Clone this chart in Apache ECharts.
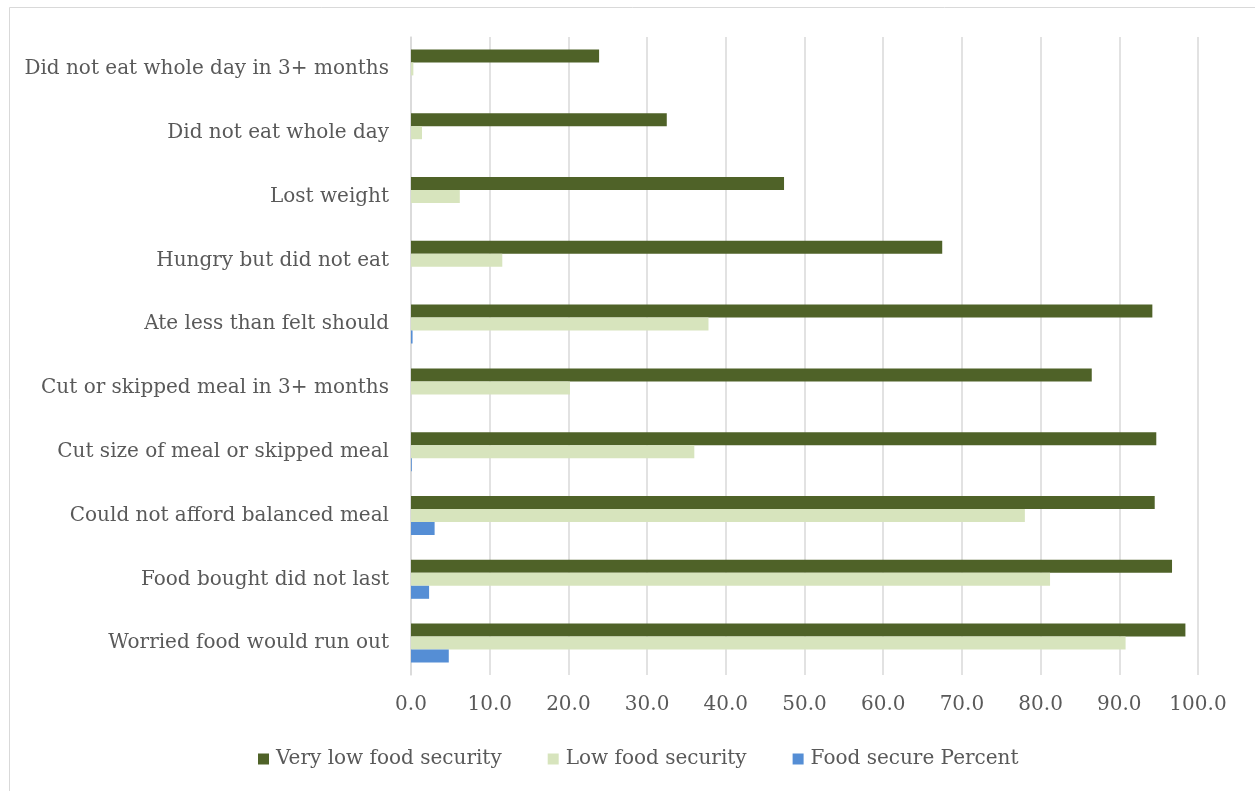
<!DOCTYPE html>
<html><head><meta charset="utf-8">
<script src="https://cdn.jsdelivr.net/npm/echarts@6/dist/echarts.min.js"></script>
<style>html,body{margin:0;padding:0;background:#fff}#c{width:1255px;height:791px}</style>
</head><body><div id="c"></div>
<script>
// categories listed bottom to top
const categories = [
  "Worried food would run out",
  "Food bought did not last",
  "Could not afford balanced meal",
  "Cut size of meal or skipped meal",
  "Cut or skipped meal in 3+ months",
  "Ate less than felt should",
  "Hungry but did not eat",
  "Lost weight",
  "Did not eat whole day",
  "Did not eat whole day in 3+ months"
];
const veryLow = [98.4, 96.7, 94.5, 94.7, 86.5, 94.2, 67.5, 47.4, 32.5, 23.9];
const low = [90.8, 81.2, 78.0, 36.0, 20.2, 37.8, 11.6, 6.2, 1.4, 0.3];
const secure = [4.8, 2.3, 3.0, 0.1, 0.0, 0.2, 0.0, 0.0, 0.0, 0.0];
const xTicks = [0, 10, 20, 30, 40, 50, 60, 70, 80, 90, 100];

const FONT = "DejaVu Serif";
const FS = 20;
const chart = echarts.init(document.getElementById('c'), null, {renderer: 'canvas'});
chart.setOption({
  animation: false,
  backgroundColor: '#fff',
  graphic: [{type: 'rect', shape: {x: 9.5, y: 7.5, width: 1250, height: 800}, style: {fill: 'none', stroke: '#D9D9D9', lineWidth: 1}, silent: true}],
  grid: {left: 411, right: 57, top: 37, bottom: 116, containLabel: false},
  legend: {
    bottom: 17, left: 253,
    data: ['Very low food security', 'Low food security', 'Food secure Percent'],
    itemWidth: 11, itemHeight: 11, itemGap: 46,
    icon: 'rect',
    textStyle: {fontFamily: FONT, fontSize: FS, color: '#595959', padding: [0, 0, 0, 2]}
  },
  xAxis: {
    type: 'value', min: xTicks[0], max: xTicks[xTicks.length - 1], interval: 10,
    axisLine: {show: false}, axisTick: {show: false},
    splitLine: {lineStyle: {color: '#D9D9D9', width: 1.5}},
    axisLabel: {fontFamily: FONT, fontSize: FS, color: '#595959', margin: 20, formatter: v => v.toFixed(1)}
  },
  yAxis: {
    type: 'category', data: categories,
    axisLine: {lineStyle: {color: '#D9D9D9', width: 1.5}}, axisTick: {show: false},
    axisLabel: {fontFamily: FONT, fontSize: FS, color: '#595959', margin: 22}
  },
  series: [
    {name: 'Very low food security', type: 'bar', data: veryLow, barWidth: 13, barGap: '0%', itemStyle: {color: '#4F6228'}},
    {name: 'Low food security', type: 'bar', data: low, barWidth: 13, barGap: '0%', itemStyle: {color: '#D7E4BD'}},
    {name: 'Food secure Percent', type: 'bar', data: secure, barWidth: 13, barGap: '0%', itemStyle: {color: '#558ED5'}}
  ]
});
</script></body></html>
